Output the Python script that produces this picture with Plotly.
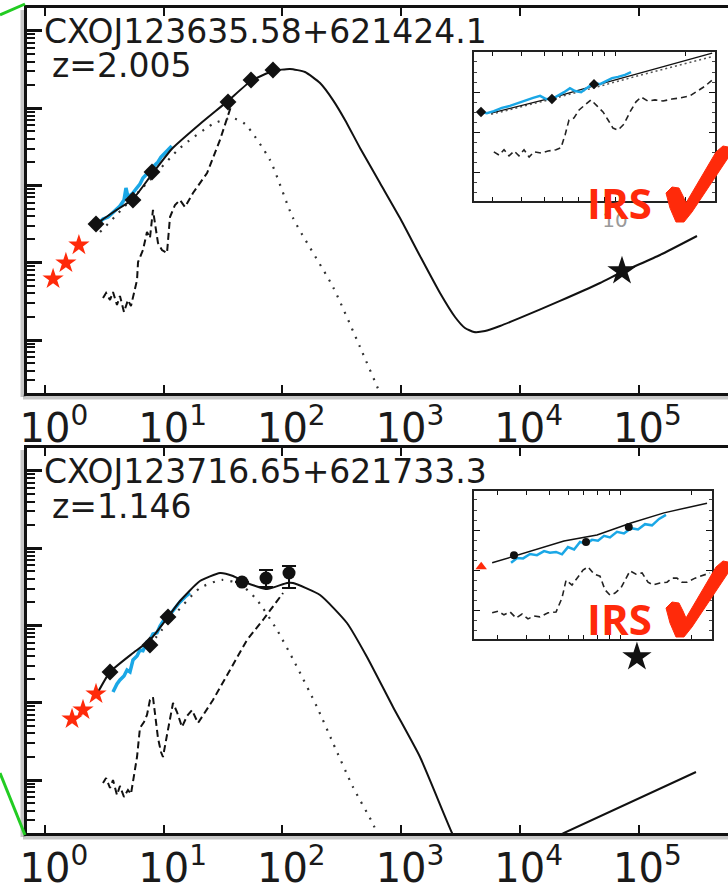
import plotly.graph_objects as go

W, H = 728, 885

# ---------------- Top source: CXOJ123635.58+621424.1 (z=2.005) ----------------
top_star_x = [1.17, 1.50, 1.93]
top_star_y = [0.0615, 0.099, 0.169]
top_phot_x = [2.69, 5.51, 7.97, 34.8, 54.4, 83.3]
top_phot_y = [0.317, 0.647, 1.49, 12.0, 23.1, 31.1]
top_radio_x = [7.26e4]
top_radio_y = [0.078]
top_irs_x = [2.80, 3.08, 3.40, 3.67, 3.96, 4.28, 4.63, 4.81, 5.00, 5.41, 5.84, 6.31,
             6.69, 7.09, 7.52, 7.97, 8.45, 8.95, 9.49, 10.06, 10.66, 11.30, 11.7]
top_irs_y = [0.317, 0.3675, 0.390, 0.4395, 0.481, 0.5415, 0.647, 0.926, 0.708, 0.774, 0.898, 1.043,
             1.246, 1.36, 1.536, 1.68, 1.836, 2.008, 2.33, 2.548, 2.786, 2.96, 3.234]
top_model_x = [2.69, 3.89, 5.51, 7.97, 11.7, 20.2, 34.8, 54.4, 83.3, 115.9, 155.0, 207.5, 266.9,
               336.9, 450.6, 664, 979, 1443, 2127, 2846, 3453, 4114, 5092, 6811, 10040, 21810,
               47400, 72600, 151800, 311000]
top_model_y = [0.317, 0.467, 0.667, 1.40, 2.96, 6.23, 12.4, 22.4, 30.2, 32.1, 29.3, 21.1, 12.7,
               7.02, 3.05, 1.074, 0.378, 0.1221, 0.0405, 0.01984, 0.0143, 0.01269, 0.01306, 0.01518,
               0.0193, 0.0320, 0.0546, 0.0758, 0.1258, 0.2215]
top_sb_x = [2.91, 7.66, 13.72, 26.0, 37.6, 48.4, 78.6, 122.9, 266.9, 450.6, 664, 888]
top_sb_y = [0.2495, 1.175, 3.05, 6.23, 7.45, 6.23, 2.13, 0.378, 0.0485, 0.00812, 0.00206, 0.000795]
top_agn_x = [3.08, 3.27, 3.53, 3.74, 4.04, 4.28, 4.63, 5.00, 5.30, 5.96, 6.08, 6.69, 7.23, 7.66,
             8.12, 8.95, 9.67, 10.66, 11.30, 12.45, 13.72, 15.11, 17.65, 23.2, 29.8, 38.4]
top_agn_y = [0.0349, 0.0405, 0.0329, 0.0418, 0.0284, 0.0371, 0.0230, 0.0329, 0.0275, 0.0597, 0.102,
             0.146, 0.2495, 0.2087, 0.481, 0.1799, 0.146, 0.1335, 0.390, 0.558, 0.647, 0.5255,
             0.797, 1.447, 3.87, 12.7]

# inset (IRS zoom) of the top source
ti_irs_x = [2.69, 2.85, 3.05, 3.30, 3.57, 3.87, 4.18, 4.48, 4.80, 5.09, 5.39, 5.72, 6.07, 6.43,
            6.76, 7.17, 7.60, 8.14, 8.63, 9.15, 9.71, 10.30, 11.03, 11.70]
ti_irs_y = [2.51, 2.48, 2.53, 2.61, 2.66, 2.73, 2.81, 2.86, 2.91, 2.83, 2.83, 2.91, 3.00, 3.10,
            3.03, 3.00, 3.10, 3.23, 3.20, 3.28, 3.35, 3.38, 3.43, 3.50]
ti_phot_x = [2.69, 5.39, 8.14]
ti_phot_y = [2.51, 2.83, 3.20]
ti_model_x = [2.97, 5.39, 8.63, 12.77, 25.9]
ti_model_y = [2.48, 2.86, 3.20, 3.48, 3.97]
ti_sb_y = [2.45, 2.83, 3.15, 3.42, 3.88]
ti_agn_x = [3.05, 3.21, 3.37, 3.54, 3.72, 3.90, 4.10, 4.31, 4.52, 4.84, 5.19, 5.61, 5.89, 6.13,
            6.37, 6.69, 7.03, 7.38, 7.90, 8.38, 8.89, 9.34, 9.80, 10.30, 10.92, 11.58, 12.28,
            12.90, 13.81, 14.80, 16.00, 17.48, 19.09, 20.85, 22.55, 24.15, 25.9]
ti_agn_y = [1.52, 1.44, 1.57, 1.42, 1.54, 1.42, 1.57, 1.39, 1.52, 1.49, 1.54, 1.57, 1.62, 1.94,
            2.31, 2.36, 2.56, 2.66, 2.81, 2.66, 2.51, 2.31, 2.11, 2.06, 2.21, 2.51, 2.76,
            2.88, 2.78, 2.81, 2.78, 2.83, 2.86, 2.91, 3.03, 3.15, 3.30]

# ---------------- Bottom source: CXOJ123716.65+621733.3 (z=1.146) ----------------
bot_star_x = [1.69, 2.09, 2.69]
bot_star_y = [0.0615, 0.0804, 0.1296]
bot_phot_x = [3.53, 7.66, 10.87]
bot_phot_y = [0.2495, 0.558, 1.284]
bot_fir_x = [45.7, 72.8, 113.7]
bot_fir_y = [3.64, 4.10, 4.76]
bot_fir_err_plus = [0.0, 1.11, 1.11]
bot_fir_err_minus = [0.0, 0.96, 1.71]
bot_radio_x = [9.7e4]
bot_radio_y = [0.390]
bot_irs_x = [3.74, 4.04, 4.28, 4.63, 4.91, 5.20, 5.51, 5.96, 6.31, 6.69, 7.23, 7.66, 8.12, 8.78,
             9.31, 10.06, 10.87, 11.7, 12.70, 13.72, 15.11, 16.66]
bot_irs_y = [0.1375, 0.1745, 0.1966, 0.2215, 0.265, 0.25, 0.3568, 0.402, 0.481, 0.47, 0.610,
             0.6475, 0.774, 0.80, 0.982, 1.175, 1.284, 1.491, 1.73, 2.008, 2.33, 2.625]
bot_model_x = [2.74, 3.53, 5.51, 7.66, 10.87, 13.72, 20.2, 29.8, 38.4, 50.3, 74.2, 109.4, 122.9,
               207.5, 350, 516, 855, 1443, 2685, 3260, 4195, 5610, 7505, 11060, 16310, 23570,
               305000]
bot_model_y = [0.1296, 0.2495, 0.4395, 0.6475, 1.284, 2.069, 3.75, 4.76, 4.356, 3.536, 2.957,
               3.536, 3.536, 2.474, 1.074, 0.390, 0.0880, 0.01984, 0.002063, 0.001171, 0.000685,
               0.00054, 0.00059, 0.00087, 0.00158, 0.002063, 0.01269]
bot_sb_x = [7.66, 11.30, 20.2, 31.0, 43.9, 61.1, 90.1, 127.7, 195.6, 266.9, 393, 568.6, 731.7]
bot_sb_y = [0.558, 1.175, 3.05, 3.87, 3.43, 2.13, 0.872, 0.3264, 0.0880, 0.0301, 0.00812,
            0.00286, 0.00124]
bot_agn_x = [3.08, 3.27, 3.53, 3.74, 4.04, 4.28, 4.63, 5.00, 5.30, 5.73, 5.96, 6.31, 6.82, 7.23,
             7.66, 8.12, 8.61, 8.95, 9.49, 9.86, 10.66, 11.30, 11.98, 12.94, 14.26, 15.72, 17.31,
             19.45, 22.28, 26.0, 36.2, 50.3, 68.6, 101.2]
bot_agn_y = [0.00915, 0.0106, 0.00788, 0.01, 0.0064, 0.00837, 0.00603, 0.00743, 0.00659, 0.01269,
             0.01984, 0.0471, 0.0563, 0.0693, 0.1083, 0.1185, 0.0597, 0.0349, 0.0230, 0.01984,
             0.0382, 0.0597, 0.0991, 0.0758, 0.0485, 0.0673, 0.0804, 0.0546, 0.0758, 0.1083,
             0.265, 0.6475, 1.175, 2.625]

# inset of the bottom source
bi_star_x = [2.56]
bi_star_y = [2.09]
bi_phot_x = [3.53, 7.15, 10.87]
bi_phot_y = [2.38, 2.71, 3.08]
bi_model_x = [2.85, 3.53, 5.76, 7.96, 11.11, 15.35, 23.4]
bi_model_y = [2.19, 2.36, 2.73, 2.88, 3.18, 3.43, 3.67]
bi_irs_x = [3.43, 3.64, 3.86, 4.13, 4.42, 4.74, 5.02, 5.33, 5.65, 5.99, 6.36, 6.74, 7.15, 7.58,
            8.04, 8.53, 9.04, 9.68, 10.37, 11.11, 11.90, 12.74, 13.65, 14.62, 15.65]
bi_irs_y = [2.19, 2.31, 2.30, 2.41, 2.38, 2.48, 2.44, 2.46, 2.40, 2.58, 2.52, 2.71, 2.66, 2.76,
            2.74, 2.86, 2.82, 2.96, 2.92, 3.05, 3.02, 3.15, 3.12, 3.28, 3.38]
bi_agn_x = [2.85, 3.02, 3.20, 3.40, 3.60, 3.82, 4.05, 4.29, 4.55, 4.93, 5.33, 5.65, 5.88, 6.23,
            6.61, 6.94, 7.29, 7.73, 8.20, 8.61, 9.04, 9.50, 10.07, 10.58, 11.00, 11.67, 12.38,
            13.12, 13.79, 14.76, 15.81, 16.60, 17.43, 18.31, 19.23, 20.80, 22.50, 24.09]
bi_agn_y = [0.95, 0.99, 0.90, 0.97, 0.82, 0.92, 0.80, 0.87, 0.85, 0.95, 0.97, 1.32, 1.76, 1.64,
            1.84, 2.01, 2.09, 1.91, 1.86, 1.52, 1.39, 1.44, 1.57, 1.81, 1.99, 1.91, 1.94,
            1.71, 1.64, 1.69, 1.71, 1.81, 1.81, 1.71, 1.71, 1.81, 1.89, 1.94]

# axis tick labels
x_tick_vals = [1, 10, 100, 1e3, 1e4, 1e5]
x_tick_exp = ["0", "1", "2", "3", "4", "5"]
y_tick_vals = [1e-2, 1e-1, 1, 10, 100]
inset_x_ticks = [3, 4, 5, 6, 7, 8, 9, 10, 20]
inset_x_text = ["", "", "", "", "", "", "", "10", ""]

source_names = ["CXOJ123635.58+621424.1", "CXOJ123716.65+621733.3"]
redshifts = ["z=2.005", "z=1.146"]

BLACK = "#111111"
BLUE = "#1aa7e6"
RED = "#ff2a0a"
FONT = "DejaVu Sans"

fig = go.Figure()


def add_main(row, star_x, star_y, phot_x, phot_y, irs_x, irs_y, model_x, model_y,
             sb_x, sb_y, agn_x, agn_y, radio_x, radio_y, phot_symbol="diamond"):
    xa = "x" if row == 1 else "x2"
    ya = "y" if row == 1 else "y2"
    fig.add_trace(go.Scatter(x=agn_x, y=agn_y, mode="lines", xaxis=xa, yaxis=ya,
                             line=dict(color=BLACK, width=2, dash="7px,4px")))
    fig.add_trace(go.Scatter(x=sb_x, y=sb_y, mode="lines", xaxis=xa, yaxis=ya,
                             line=dict(color="#333333", width=2.2, dash="2px,7px", shape="spline", smoothing=0.6)))
    fig.add_trace(go.Scatter(x=irs_x, y=irs_y, mode="lines", xaxis=xa, yaxis=ya,
                             line=dict(color=BLUE, width=3.5)))
    fig.add_trace(go.Scatter(x=model_x, y=model_y, mode="lines", xaxis=xa, yaxis=ya,
                             line=dict(color=BLACK, width=2, shape="spline", smoothing=0.5)))
    fig.add_trace(go.Scatter(x=star_x, y=star_y, mode="markers", xaxis=xa, yaxis=ya,
                             marker=dict(symbol="star", size=16, color=RED, line=dict(width=0))))
    fig.add_trace(go.Scatter(x=phot_x, y=phot_y, mode="markers", xaxis=xa, yaxis=ya,
                             marker=dict(symbol=phot_symbol, size=13, color=BLACK, line=dict(width=0))))
    fig.add_trace(go.Scatter(x=radio_x, y=radio_y, mode="markers", xaxis=xa, yaxis=ya,
                             marker=dict(symbol="star", size=22, color=BLACK, line=dict(width=0))))


add_main(1, top_star_x, top_star_y, top_phot_x, top_phot_y, top_irs_x, top_irs_y,
         top_model_x, top_model_y, top_sb_x, top_sb_y, top_agn_x, top_agn_y, top_radio_x, top_radio_y)
add_main(2, bot_star_x, bot_star_y, bot_phot_x, bot_phot_y, bot_irs_x, bot_irs_y,
         bot_model_x, bot_model_y, bot_sb_x, bot_sb_y, bot_agn_x, bot_agn_y, bot_radio_x, bot_radio_y)
fig.add_trace(go.Scatter(x=bot_fir_x, y=bot_fir_y, mode="markers", xaxis="x2", yaxis="y2",
                         marker=dict(symbol="circle", size=13, color=BLACK),
                         error_y=dict(type="data", symmetric=False, array=bot_fir_err_plus,
                                      arrayminus=bot_fir_err_minus, color=BLACK, thickness=2, width=7)))

# top inset
fig.add_trace(go.Scatter(x=ti_agn_x, y=ti_agn_y, mode="lines", xaxis="x3", yaxis="y3",
                         line=dict(color="#222222", width=1.6, dash="6px,4px")))
fig.add_trace(go.Scatter(x=ti_model_x, y=ti_sb_y, mode="lines", xaxis="x3", yaxis="y3",
                         line=dict(color="#555555", width=1.5, dash="2px,3px")))
fig.add_trace(go.Scatter(x=ti_model_x, y=ti_model_y, mode="lines", xaxis="x3", yaxis="y3",
                         line=dict(color=BLACK, width=1.3)))
fig.add_trace(go.Scatter(x=ti_irs_x, y=ti_irs_y, mode="lines", xaxis="x3", yaxis="y3",
                         line=dict(color=BLUE, width=2.5)))
fig.add_trace(go.Scatter(x=ti_phot_x, y=ti_phot_y, mode="markers", xaxis="x3", yaxis="y3",
                         marker=dict(symbol="diamond", size=8, color=BLACK)))

# bottom inset
fig.add_trace(go.Scatter(x=bi_agn_x, y=bi_agn_y, mode="lines", xaxis="x4", yaxis="y4",
                         line=dict(color="#222222", width=1.6, dash="6px,4px")))
fig.add_trace(go.Scatter(x=bi_model_x, y=bi_model_y, mode="lines", xaxis="x4", yaxis="y4",
                         line=dict(color=BLACK, width=1.5)))
fig.add_trace(go.Scatter(x=bi_irs_x, y=bi_irs_y, mode="lines", xaxis="x4", yaxis="y4",
                         line=dict(color=BLUE, width=2.5)))
fig.add_trace(go.Scatter(x=bi_phot_x, y=bi_phot_y, mode="markers", xaxis="x4", yaxis="y4",
                         marker=dict(symbol="circle", size=8, color=BLACK)))
fig.add_trace(go.Scatter(x=bi_star_x, y=bi_star_y, mode="markers", xaxis="x4", yaxis="y4",
                         marker=dict(symbol="triangle-up", size=10, color=RED)))


def px(x):
    return x / W


def py(y):
    return 1 - y / H


ghost = "<span style='color:rgba(0,0,0,0)'><sup>0</sup></span>"
x_tick_text = [ghost + "10<sup>" + e + "</sup>" for e in x_tick_exp]
minor_vals = [m * 10 ** k for k in range(-3, 3) for m in range(2, 10)]

main_x = dict(type="log", range=[(27 - 45) / 118.7, (728 - 45) / 118.7], tickvals=x_tick_vals,
              ticktext=x_tick_text, ticks="inside", ticklen=8, tickwidth=2, tickcolor=BLACK,
              showline=True, linewidth=3, linecolor=BLACK, mirror="allticks", showgrid=False,
              zeroline=False, tickfont=dict(family=FONT, size=40, color="#1a1a1a"),
              ticklabelstandoff=-2, automargin=False)
main_y = dict(type="log", range=[-2 - 53 / 77.3, -2 + 332 / 77.3], tickvals=y_tick_vals,
              ticks="inside", ticklen=15, tickwidth=2.5, tickcolor=BLACK, showticklabels=False,
              showline=True, linewidth=3, linecolor=BLACK, mirror=False, showgrid=False,
              zeroline=False, automargin=False,
              minor=dict(tickvals=minor_vals, ticks="inside", ticklen=8, tickwidth=1.5,
                         tickcolor=BLACK, showgrid=False))

inset_x = dict(type="log", tickvals=inset_x_ticks, ticktext=inset_x_text, ticks="inside", ticklen=4,
               tickwidth=1, tickcolor=BLACK, showline=True, linewidth=2, linecolor="#222222",
               mirror="allticks", showgrid=False, zeroline=False, automargin=False,
               tickfont=dict(family=FONT, size=20, color="#9a9a9a"))
inset_y = dict(type="linear", tickvals=[1, 2, 3], ticks="inside", ticklen=6, tickwidth=1,
               tickcolor=BLACK, showticklabels=False, showline=True, linewidth=2,
               linecolor="#222222", mirror="allticks", showgrid=False, zeroline=False,
               automargin=False,
               minor=dict(dtick=0.25, ticks="inside", ticklen=3, tickcolor="#444444", showgrid=False))

fig.update_layout(
    width=W, height=H, margin=dict(l=0, r=0, t=0, b=0, autoexpand=False),
    paper_bgcolor="white", plot_bgcolor="rgba(0,0,0,0)", showlegend=False,
    xaxis=dict(main_x, domain=[px(27), 1.0], anchor="y"),
    yaxis=dict(main_y, domain=[py(393), py(8)], anchor="x"),
    xaxis2=dict(main_x, domain=[px(27), 1.0], anchor="y2"),
    yaxis2=dict(main_y, domain=[py(833), py(448)], anchor="x2"),
    xaxis3=dict(inset_x, domain=[px(474), px(715)], anchor="y3",
                range=[0.4297 - 7 / 235, 0.4297 + 234 / 235]),
    yaxis3=dict(inset_y, domain=[py(201), py(52)], anchor="x3", range=[0.3, 0.3 + 149 / 40.3]),
    xaxis4=dict(inset_x, domain=[px(474), px(712)], anchor="y4",
                range=[0.5478 - 40 / 235, 0.5478 + 198 / 235], showticklabels=False),
    yaxis4=dict(inset_y, domain=[py(639), py(491)], anchor="x4", range=[0.3, 0.3 + 148 / 40.3]),
)

# text labels
for name, z, yn, yz in [(source_names[0], redshifts[0], 31.5, 65.5),
                        (source_names[1], redshifts[1], 471.5, 506.5)]:
    fig.add_annotation(x=px(42), y=py(yn), xref="paper", yref="paper", text=name, showarrow=False,
                       xanchor="left", yanchor="middle",
                       font=dict(family=FONT, size=33, color="#1a1a1a"))
    fig.add_annotation(x=px(50), y=py(yz), xref="paper", yref="paper", text=z, showarrow=False,
                       xanchor="left", yanchor="middle",
                       font=dict(family=FONT, size=33, color="#1a1a1a"))

for yc in [203, 618]:
    fig.add_annotation(x=px(585), y=py(yc), xref="paper", yref="paper", text="<b>IRS</b>",
                       showarrow=False, xanchor="left", yanchor="middle",
                       font=dict(family="Open Sans", size=42, color=RED))

# decorative check marks, shadows and connector lines
check = [(666, 193), (672, 187), (679, 188), (683, 196), (686, 203), (716, 152), (723, 146),
         (728, 147), (728, 158), (692, 212), (684, 222), (676, 222), (670, 208)]
for dy in [0, 415]:
    path = "M " + " L ".join(f"{px(a):.5f},{py(b + dy):.5f}" for a, b in check) + " Z"
    fig.add_shape(type="path", path=path, xref="paper", yref="paper",
                  fillcolor=RED, line=dict(color=RED, width=1))

for top, bot in [(10, 397), (450, 837)]:
    fig.add_shape(type="line", xref="paper", yref="paper", x0=px(23), x1=px(23),
                  y0=py(top), y1=py(bot), line=dict(color="rgba(0,0,0,0.22)", width=5), layer="below")
    fig.add_shape(type="line", xref="paper", yref="paper", x0=px(23), x1=1.0,
                  y0=py(bot), y1=py(bot), line=dict(color="rgba(0,0,0,0.22)", width=5), layer="below")

fig.add_shape(type="line", xref="paper", yref="paper", x0=0, y0=py(15), x1=px(25), y1=py(4),
              line=dict(color="#22cc22", width=3))
fig.add_shape(type="line", xref="paper", yref="paper", x0=0, y0=py(773), x1=px(25), y1=py(835),
              line=dict(color="#22cc22", width=3))

fig.write_html("out.html")
